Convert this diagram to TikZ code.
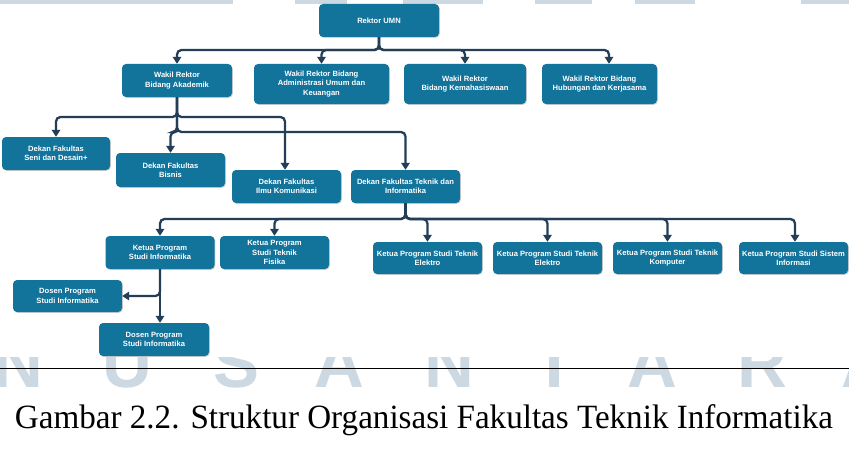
\documentclass[tikz,border=0pt]{standalone}
\usepackage{fontspec}
\usepackage{graphicx}
\setmainfont{Liberation Serif}
\newfontfamily\boxfont{Liberation Sans}
\usetikzlibrary{arrows.meta,shadows}
\definecolor{boxblue}{RGB}{18,115,155}
\definecolor{linecol}{RGB}{36,62,88}
\definecolor{wmcol}{RGB}{204,216,226}
\tikzset{
  orgbox/.style={rectangle, rounded corners=4pt, fill=boxblue, text=white,
    font=\boxfont\bfseries\fontsize{7.6}{9.3}\selectfont, align=center, inner sep=0pt,
    drop shadow={shadow xshift=0.8pt, shadow yshift=-0.8pt, opacity=0.3, fill=black!60}},
  conn/.style={draw=linecol, line width=2.3pt, rounded corners=4.5pt, -{Triangle[width=8.5pt,length=7pt]}},
  wmletter/.style={anchor=base, text=wmcol, inner sep=0pt, font=\boxfont\bfseries\fontsize{69}{69}\selectfont},
}
\begin{document}
\begin{tikzpicture}[x=1pt,y=-1pt]
\useasboundingbox (0,0) rectangle (849,452);
% watermark remnants
\fill[wmcol] (0,0) rectangle (233,4.5);
\fill[wmcol] (295,0) rectangle (347,4.5);
\fill[wmcol] (403,0) rectangle (483,4.5);
\fill[wmcol] (535,0) rectangle (592,4.5);
\fill[wmcol] (635,0) rectangle (695,4.5);
\fill[wmcol] (801,0) rectangle (849,4.5);
\begin{scope}
  \clip (0,357) rectangle (849,452);
  \foreach \l/\x [count=\i] in {N/18,U/127.5,S/236.5,A/339.5,N/449,T/555,A/652.5,R/762,A/866}
    \node[wmletter] (wm\i) at (\x,387) {\l};
\end{scope}

% boxes
\node[orgbox, minimum width=120pt, minimum height=33pt] (rektor) at (379,20.5) {Rektor UMN};
\node[orgbox, minimum width=110pt, minimum height=33pt] (wr1) at (177,80.5) {Wakil Rektor\\Bidang Akademik};
\node[orgbox, minimum width=135pt, minimum height=40pt] (wr2) at (321.5,84) {Wakil Rektor Bidang\\Administrasi Umum dan\\Keuangan};
\node[orgbox, minimum width=122pt, minimum height=40pt] (wr3) at (465,84) {Wakil Rektor\\Bidang Kemahasiswaan};
\node[orgbox, minimum width=115pt, minimum height=40pt] (wr4) at (599.5,84) {Wakil Rektor Bidang\\Hubungan dan Kerjasama};

\node[orgbox, minimum width=108pt, minimum height=33pt] (d1) at (56,153.5) {Dekan Fakultas\\Seni dan Desain+};
\node[orgbox, minimum width=109pt, minimum height=34pt] (d2) at (170.5,170) {Dekan Fakultas\\Bisnis};
\node[orgbox, minimum width=109pt, minimum height=33pt] (d3) at (286.5,186.5) {Dekan Fakultas\\Ilmu Komunikasi};
\node[orgbox, minimum width=109pt, minimum height=33pt] (d4) at (405.5,186.5) {Dekan Fakultas Teknik dan\\Informatika};

\node[orgbox, minimum width=109pt, minimum height=33pt] (k1) at (160,252.5) {Ketua Program\\Studi Informatika};
\node[orgbox, minimum width=109pt, minimum height=33pt] (k2) at (274.5,252.5) {Ketua Program\\Studi Teknik\\Fisika};
\node[orgbox, minimum width=109pt, minimum height=32pt] (k3) at (427.5,258) {Ketua Program Studi Teknik\\Elektro};
\node[orgbox, minimum width=109pt, minimum height=32pt] (k4) at (547.5,258) {Ketua Program Studi Teknik\\Elektro};
\node[orgbox, minimum width=109pt, minimum height=32pt] (k5) at (667.5,258) {Ketua Program Studi Teknik\\Komputer};
\node[orgbox, minimum width=109pt, minimum height=32pt] (k6) at (793.5,258) {Ketua Program Studi Sistem\\Informasi};

\node[orgbox, minimum width=109pt, minimum height=32pt] (s1) at (67.5,296) {Dosen Program\\Studi Informatika};
\node[orgbox, minimum width=110pt, minimum height=33pt] (s2) at (154,339.5) {Dosen Program\\Studi Informatika};

% bus levels
\coordinate (b1) at (379,50);
\coordinate (b2) at (177,117);
\coordinate (b3) at (177,132);
\coordinate (b4) at (406,219);

% connectors
\draw[conn] (rektor.south) -- (rektor.south |- b1) -| (wr1.north);
\draw[conn] (rektor.south) -- (rektor.south |- b1) -| (wr2.north);
\draw[conn] (rektor.south) -- (rektor.south |- b1) -| (wr3.north);
\draw[conn] (rektor.south) -- (rektor.south |- b1) -| ([xshift=9.5pt]wr4.north);

\draw[conn] (wr1.south) -- (wr1.south |- b2) -| (d1.north);
\draw[conn] (wr1.south) -- (wr1.south |- b2) -| ([xshift=-1.5pt]d3.north);
\draw[conn] (wr1.south) -- (wr1.south |- b3) -| (d2.north);
\draw[conn] (wr1.south) -- (wr1.south |- b3) -| (d4.north);

\draw[conn] (d4.south) -- (d4.south |- b4) -| (k1.north);
\draw[conn] (d4.south) -- (d4.south |- b4) -| (k2.north);
\draw[conn] (d4.south) -- (d4.south |- b4) -| (k3.north);
\draw[conn] (d4.south) -- (d4.south |- b4) -| (k4.north);
\draw[conn] (d4.south) -- (d4.south |- b4) -| (k5.north);
\draw[conn] (d4.south) -- (d4.south |- b4) -| ([xshift=1.5pt]k6.north);

\draw[conn] (k1.south) -- (k1.south |- s2.north);
\draw[conn] (k1.south) |- (s1.east);

% rule and caption
\coordinate (rl) at (0,368.3);
\coordinate (rr) at (849,368.3);
\draw[line width=1pt] (rl) -- (rr);
\node[anchor=base, inner sep=0pt, font=\fontsize{34}{34}\selectfont] (cap) at (424,428)
  {\resizebox{818pt}{\height}{Gambar 2.2. Struktur Organisasi Fakultas Teknik Informatika}};
\end{tikzpicture}
\end{document}
